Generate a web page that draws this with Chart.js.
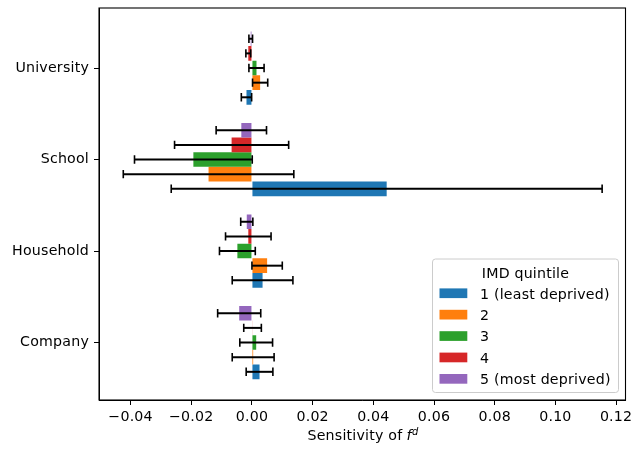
<!DOCTYPE html>
<html><head><meta charset="utf-8">
<script src="https://cdn.jsdelivr.net/npm/chart.js@4/dist/chart.umd.min.js"></script>
<style>html,body{margin:0;padding:0;background:#fff;} #wrap{width:641px;height:449px;}</style>
</head><body><div id="wrap"><canvas id="c" width="641" height="449"></canvas></div>
<script>
// ---- data ----
const categories = ['Company', 'Household', 'School', 'University'];
const quintiles = ['1 (least deprived)', '2', '3', '4', '5 (most deprived)'];
const colors = ['#1f77b4', '#ff7f0e', '#2ca02c', '#d62728', '#9467bd'];
const q1 = [0.0025, 0.0035, 0.0444, -0.0018];
const q1Err = [0.0044, 0.0100, 0.0710, 0.0017];
const q2 = [0.0004, 0.0050, -0.0143, 0.0027];
const q2Err = [0.0069, 0.0050, 0.0281, 0.0025];
const q3 = [0.0014, -0.0048, -0.0193, 0.0015];
const q3Err = [0.0054, 0.0059, 0.0194, 0.0025];
const q4 = [0.0002, -0.0012, -0.0067, -0.0012];
const q4Err = [0.0029, 0.0075, 0.0188, 0.0008];
const q5 = [-0.0042, -0.0017, -0.0035, -0.0004];
const q5Err = [0.0071, 0.0020, 0.0083, 0.0006];
const xTicks = [-0.04, -0.02, 0.00, 0.02, 0.04, 0.06, 0.08, 0.10, 0.12];
const xTitleText = 'Sensitivity of ';
const xTitleItalic = 'f';
const xTitleSup = 'd';
const legendTitle = 'IMD quintile';

const series = [q1, q2, q3, q4, q5];
const errs = [q1Err, q2Err, q3Err, q4Err, q5Err];

const FONT = "'DejaVu Sans'";
const FS = 14.2;
const LS = '0.2px';

// first dataset is drawn at the top of each group in Chart.js -> reverse order
const datasets = [];
for (let k = series.length - 1; k >= 0; k--) {
  datasets.push({
    label: quintiles[k],
    data: series[k].map((v, i) => ({ x: v, y: i })),
    errors: errs[k],
    backgroundColor: colors[k],
    borderWidth: 0,
    categoryPercentage: 0.8,
    barPercentage: 1.0
  });
}

const spacing = {
  id: 'spacing',
  beforeDraw(chart) { try { chart.ctx.letterSpacing = LS; } catch (e) {} }
};

const errorBars = {
  id: 'errorBars',
  afterDatasetsDraw(chart) {
    const ctx = chart.ctx;
    const xs = chart.scales.x;
    ctx.save();
    ctx.strokeStyle = '#000';
    chart.data.datasets.forEach((ds, di) => {
      const meta = chart.getDatasetMeta(di);
      meta.data.forEach((bar, i) => {
        const v = ds.data[i].x, e = ds.errors[i];
        const x1 = xs.getPixelForValue(v - e), x2 = xs.getPixelForValue(v + e);
        const y = bar.y;
        ctx.lineWidth = 2;
        ctx.beginPath(); ctx.moveTo(x1, y); ctx.lineTo(x2, y); ctx.stroke();
        ctx.lineWidth = 1.6;
        ctx.beginPath();
        ctx.moveTo(x1, y - 4.2); ctx.lineTo(x1, y + 4.2);
        ctx.moveTo(x2, y - 4.2); ctx.lineTo(x2, y + 4.2);
        ctx.stroke();
      });
    });
    ctx.restore();
  }
};

const decor = {
  id: 'decor',
  afterDraw(chart) {
    const ctx = chart.ctx;
    const a = chart.chartArea;
    ctx.save();
    // frame
    ctx.strokeStyle = '#000';
    ctx.lineWidth = 1.1;
    ctx.strokeRect(a.left, a.top, a.right - a.left, a.bottom - a.top);

    // x title
    ctx.fillStyle = '#000';
    ctx.textBaseline = 'alphabetic';
    ctx.textAlign = 'left';
    const fN = FS + 'px ' + FONT, fI = 'italic ' + FS + 'px ' + FONT, fS = 'italic ' + (FS * 0.7) + 'px ' + FONT;
    ctx.font = fN; const w1 = ctx.measureText(xTitleText).width;
    ctx.font = fI; const w2 = ctx.measureText(xTitleItalic).width;
    ctx.font = fS; const w3 = ctx.measureText(xTitleSup).width;
    const gap = 0.3;
    const total = w1 + w2 + gap + w3;
    let x = (a.left + a.right) / 2 - total / 2 + 1;
    const yb = 440;
    ctx.font = fN; ctx.fillText(xTitleText, x, yb); x += w1 - 0.5;
    ctx.font = fI; ctx.fillText(xTitleItalic, x, yb); x += w2 + gap;
    ctx.font = fS; ctx.fillText(xTitleSup, x, yb - 5.5);

    // legend
    const bx = 432.5, by = 259, bw = 186, bh = 133.5, r = 3;
    ctx.beginPath();
    ctx.moveTo(bx + r, by);
    ctx.lineTo(bx + bw - r, by); ctx.arcTo(bx + bw, by, bx + bw, by + r, r);
    ctx.lineTo(bx + bw, by + bh - r); ctx.arcTo(bx + bw, by + bh, bx + bw - r, by + bh, r);
    ctx.lineTo(bx + r, by + bh); ctx.arcTo(bx, by + bh, bx, by + bh - r, r);
    ctx.lineTo(bx, by + r); ctx.arcTo(bx, by, bx + r, by, r);
    ctx.closePath();
    ctx.fillStyle = 'rgba(255,255,255,0.8)';
    ctx.fill();
    ctx.strokeStyle = '#cccccc';
    ctx.lineWidth = 1;
    ctx.stroke();

    ctx.fillStyle = '#000';
    ctx.font = fN;
    ctx.textAlign = 'center';
    ctx.fillText(legendTitle, bx + bw / 2, 278.3);
    ctx.textAlign = 'left';
    for (let k = 0; k < quintiles.length; k++) {
      const cy = 293.3 + k * 21.4;
      ctx.fillStyle = colors[k];
      ctx.fillRect(439.5, cy - 4.9, 27.8, 9.7);
      ctx.fillStyle = '#000';
      ctx.fillText(quintiles[k], 480, cy + 5.3);
    }
    ctx.restore();
  }
};

Chart.defaults.font.family = FONT;
Chart.defaults.font.size = FS;
Chart.defaults.color = '#000';

new Chart(document.getElementById('c'), {
  type: 'bar',
  data: { datasets },
  options: {
    indexAxis: 'y',
    responsive: false,
    devicePixelRatio: 1,
    animation: false,
    events: [],
    layout: { padding: { left: 0, top: 8, right: 15.5, bottom: 0 } },
    plugins: { legend: { display: false }, tooltip: { enabled: false } },
    scales: {
      x: {
        type: 'linear',
        offset: false,
        min: -0.0504,
        max: 0.1231,
        afterBuildTicks: (s) => { s.ticks = xTicks.map(v => ({ value: v })); },
        afterFit: (s) => { s.height = 49; s.paddingLeft = 0; s.paddingRight = 0; },
        ticks: {
          padding: 4,
          color: '#000',
          font: { family: FONT, size: FS },
          maxRotation: 0,
          autoSkip: false,
          callback: (v) => (v < -1e-9 ? '\u2212' : '') + Math.abs(v).toFixed(2)
        },
        grid: { display: true, offset: false, drawOnChartArea: false, drawTicks: true, tickLength: 5, color: '#000', lineWidth: 1 },
        border: { display: true, color: '#000', width: 1 }
      },
      y: {
        type: 'linear',
        offset: false,
        min: -0.628,
        max: 3.656,
        afterBuildTicks: (s) => { s.ticks = categories.map((c, i) => ({ value: i })); },
        afterFit: (s) => { s.width = 99; s.paddingTop = 0; s.paddingBottom = 0; },
        ticks: {
          padding: 5,
          color: '#000',
          font: { family: FONT, size: FS },
          autoSkip: false,
          callback: (v) => categories[v]
        },
        grid: { display: true, offset: false, drawOnChartArea: false, drawTicks: true, tickLength: 5, color: '#000', lineWidth: 1 },
        border: { display: true, color: '#000', width: 1 }
      }
    }
  },
  plugins: [spacing, errorBars, decor]
});
</script>
</body></html>
